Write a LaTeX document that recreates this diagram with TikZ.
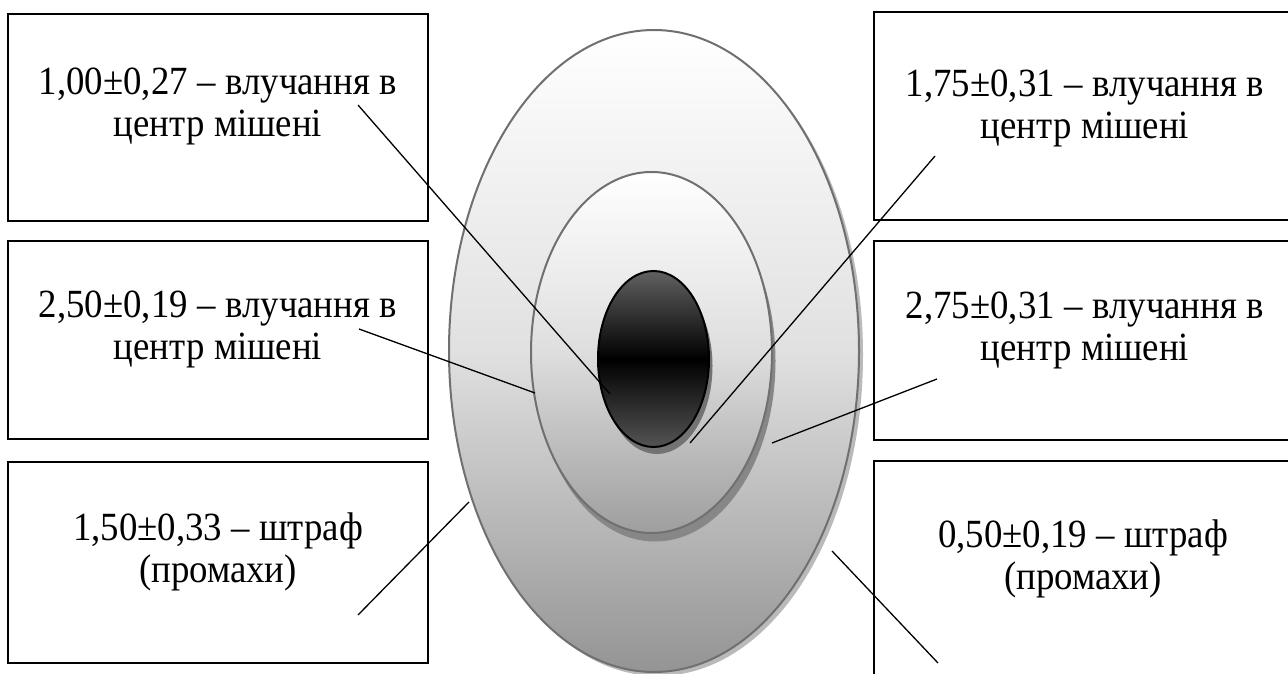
\documentclass[tikz,border=0pt]{standalone}
\usepackage{fontspec}
\setmainfont{Liberation Serif}[FakeStretch=0.92]
\usetikzlibrary{shapes.geometric}
\begin{document}
\begin{tikzpicture}[x=1pt,y=-1pt,
  box/.style={draw=black,line width=1.6pt,fill=white,minimum width=420pt,minimum height=207pt,inner sep=0pt,outer sep=0pt},
  lbl/.style={font=\fontsize{40}{42}\selectfont,execute at begin node={\spaceskip=9.5pt\relax},text width=420pt,align=center,anchor=base,inner sep=0pt},
  ring/.style={ellipse,draw=black!56,line width=2pt,inner sep=0pt,outer sep=0pt},
  conn/.style={draw=black,line width=1.3pt}
]
\useasboundingbox (0,0) rectangle (1288,674);
\clip (0,0) rectangle (1288,674);
\fill[white] (0,0) rectangle (1288,674);

% boxes
\node[box,minimum height=207pt] (L1) at (218,117.5) {};
\node[box,minimum height=198pt] (L2) at (218,340) {};
\node[box,minimum height=201pt] (L3) at (218,562.5) {};
\node[box,minimum height=208pt] (R1) at (1084,116) {};
\node[box,minimum height=199pt] (R2) at (1084,340.5) {};
\node[box,minimum height=230pt] (R3) at (1084,576) {};

% texts
\node[lbl] (tL1) at (218,95) {1,00±0,27 – влучання в\\центр мішені};
\node[lbl] (tL2) at (218,317) {2,50±0,19 – влучання в\\центр мішені};
\node[lbl] (tL3) at (218,540) {1,50±0,33 – штраф\\(промахи)};
\node[lbl] (tR1) at (1085,97) {1,75±0,31 – влучання в\\центр мішені};
\node[lbl] (tR2) at (1085,318) {2,75±0,31 – влучання в\\центр мішені};
\node[lbl] (tR3) at (1083,547) {0,50±0,19 – штраф\\(промахи)};

% target with shadows
\fill[black!27] (658,355) ellipse [x radius=205, y radius=321];
\node[ring,minimum width=410pt,minimum height=642pt,top color=white,bottom color=black!42,middle color=black!12] (outer) at (654,351) {};
\fill[black!47] (655,361) ellipse [x radius=120.5, y radius=180.5];
\node[ring,minimum width=241pt,minimum height=361pt,top color=white,bottom color=black!38,middle color=black!13] (middle) at (651.5,352.5) {};
\fill[black!55] (657,366) ellipse [x radius=55.5, y radius=88];
\node[ring,draw=black,minimum width=111pt,minimum height=176pt,top color=black!62,bottom color=black!67,middle color=black] (inner) at (653.5,359) {};

% connector end points
\coordinate (a1) at (358,105);  \coordinate (b1) at (610,394);
\coordinate (a2) at (359,329);  \coordinate (b2) at (535,393);
\coordinate (a3) at (358,615);  \coordinate (b3) at (469,502);
\coordinate (a4) at (935,156);  \coordinate (b4) at (690,443);
\coordinate (a5) at (937,379);  \coordinate (b5) at (772,443);
\coordinate (a6) at (938,663);  \coordinate (b6) at (832,551);

\draw[conn] (a1) -- (b1);
\draw[conn] (a2) -- (b2);
\draw[conn] (a3) -- (b3);
\draw[conn] (a4) -- (b4);
\draw[conn] (a5) -- (b5);
\draw[conn] (a6) -- (b6);
\end{tikzpicture}
\end{document}
